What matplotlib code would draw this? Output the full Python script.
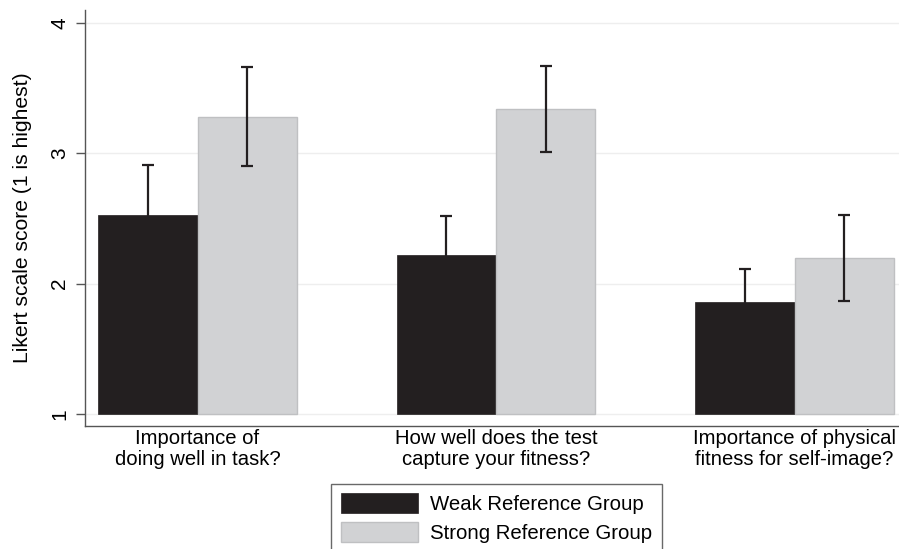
import numpy as np
import matplotlib
matplotlib.use("Agg")
import matplotlib.pyplot as plt

plt.rcParams['font.family'] = ['Liberation Sans', 'DejaVu Sans']

# dados
categorias = ["Importance of\ndoing well in task?",
              "How well does the test\ncapture your fitness?",
              "Importance of physical\nfitness for self-image?"]
fraco = [2.53, 2.22, 1.86]
fraco_err = [0.38, 0.30, 0.25]
forte = [3.28, 3.34, 2.20]
forte_err = [0.38, 0.33, 0.33]
rotulos = ["Weak Reference Group", "Strong Reference Group"]

escuro = '#231f20'
claro = '#d1d2d4'
base = 1

fig = plt.figure(figsize=(8.99, 5.49), dpi=100)
ax = fig.add_axes([85/899, 1-426/549, 1-85/899, (426-10)/549])

x = np.arange(len(categorias))
w = 0.333

b1 = ax.bar(x - w/2, np.array(fraco) - base, w, bottom=base, color=escuro,
            edgecolor=escuro, linewidth=0.5, label=rotulos[0], zorder=2)
b2 = ax.bar(x + w/2, np.array(forte) - base, w, bottom=base, color=claro,
            edgecolor='#bfc0c2', linewidth=1, label=rotulos[1], zorder=2)
ax.errorbar(x - w/2, fraco, yerr=fraco_err, fmt='none', ecolor=escuro,
            elinewidth=1.6, capsize=4.5, capthick=1.6, zorder=3)
ax.errorbar(x + w/2, forte, yerr=forte_err, fmt='none', ecolor=escuro,
            elinewidth=1.6, capsize=4.5, capthick=1.6, zorder=3)

ax.set_xlim(-0.377, 2.35)
ax.set_ylim(0.908, 4.1)
ax.set_yticks([1, 2, 3, 4])
ax.set_yticklabels(['1', '2', '3', '4'], rotation=90, va='center', fontsize=15)
ax.set_xticks(x)
ax.set_xticklabels(categorias, fontsize=14.6, linespacing=1.15)
ax.tick_params(axis='x', length=0, pad=2)
ax.tick_params(axis='y', length=6.5, width=1, color='#555555', pad=5)
ax.set_ylabel("Likert scale score (1 is highest)", fontsize=15.2, labelpad=13)
ax.yaxis.grid(True, color='#eeeeee', linewidth=1, zorder=0)
ax.set_axisbelow(True)
for s in ['top', 'right']:
    ax.spines[s].set_visible(False)
for s in ['left', 'bottom']:
    ax.spines[s].set_color('#555555')
    ax.spines[s].set_linewidth(1)

leg = fig.legend(handles=[b1, b2], labels=rotulos, loc='upper center',
                 bbox_to_anchor=(496.5/899, 1-484/549), fontsize=14.7,
                 fancybox=False, frameon=True, edgecolor='#444444',
                 handlelength=3.8, handleheight=1.08, handletextpad=0.6,
                 labelspacing=0.42, borderpad=0.45, borderaxespad=0)
leg.get_frame().set_linewidth(1)

fig.savefig('out.png', dpi=100)
